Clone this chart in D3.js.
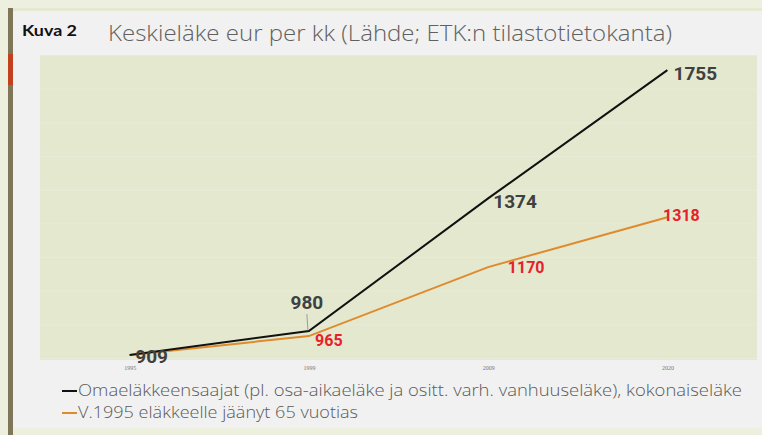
<!DOCTYPE html>
<html lang="fi">
<head>
<meta charset="UTF-8">
<script src="https://d3js.org/d3.v7.min.js"></script>
<title>Keskieläke</title>
<style>
  body { margin: 0; background: #f1f1f0; }
  svg { display: block; }
</style>
</head>
<body>
<svg width="762" height="435"></svg>
<script>
// chart data
var years = ["1995", "1999", "2009", "2020"];
var allPensioners = [909, 980, 1374, 1755];
var retired1995 = [909, 965, 1170, 1318];
var gridValues = [900, 1000, 1100, 1200, 1300, 1400, 1500, 1600, 1700, 1800];
var legendLabels = [
    "Omaeläkkeensaajat (pl. osa-aikaeläke ja ositt. varh. vanhuuseläke), kokonaiseläke",
    "V.1995 eläkkeelle jäänyt 65 vuotias"
];

var svg = d3.select("svg");

// slide background pieces
svg.append("rect").attr("x", 0).attr("y", 0).attr("width", 762).attr("height", 435).attr("fill", "#eef0df");
svg.append("rect").attr("x", 13).attr("y", 10).attr("width", 749).attr("height", 418).attr("fill", "#f1f1f1");
svg.append("rect").attr("x", 8).attr("y", 8).attr("width", 5).attr("height", 427).attr("fill", "#7f7659");
svg.append("rect").attr("x", 8).attr("y", 54).attr("width", 5).attr("height", 31).attr("fill", "#c2401c");
svg.append("rect").attr("x", 13).attr("y", 8).attr("width", 749).attr("height", 3).attr("fill", "#e6e9d2");

var margin = {left: 40, top: 55, right: 757, bottom: 360};

var x = d3.scalePoint().domain(years).range([margin.left, margin.right]).padding(0.5);
var y = d3.scaleLinear().domain([894, 1800]).range([margin.bottom, margin.top]);

// plot area
svg.append("rect")
    .attr("x", margin.left).attr("y", margin.top)
    .attr("width", margin.right - margin.left).attr("height", margin.bottom - margin.top)
    .attr("fill", "#e3e8cf");

var grid = svg.append("g")
    .attr("transform", "translate(" + margin.left + ",0)")
    .call(d3.axisLeft(y).tickValues(gridValues).tickSize(-(margin.right - margin.left)).tickFormat(""));
grid.select(".domain").remove();
grid.selectAll("line").attr("stroke", "#e8ebd8").attr("stroke-width", 1);

// x labels
var xAxis = svg.append("g")
    .attr("transform", "translate(0," + margin.bottom + ")")
    .call(d3.axisBottom(x).tickSize(0).tickPadding(6));
xAxis.select(".domain").remove();
xAxis.selectAll("text")
    .attr("fill", "#777")
    .style("font-family", "Liberation Serif, serif")
    .style("font-size", "6px");

var line = d3.line()
    .x(function(d, i) { return x(years[i]); })
    .y(function(d) { return y(d); });

svg.append("path").datum(retired1995)
    .attr("d", line).attr("fill", "none")
    .attr("stroke", "#e08a2c").attr("stroke-width", 2);
svg.append("path").datum(allPensioners)
    .attr("d", line).attr("fill", "none")
    .attr("stroke", "#111").attr("stroke-width", 2);

// leader for 980
svg.append("line")
    .attr("x1", x("1999") - 2).attr("y1", y(980) - 17)
    .attr("x2", x("1999") - 1).attr("y2", y(980) - 1)
    .attr("stroke", "#8a8a8a").attr("stroke-width", 0.8);

// value labels
var blackOffsets = [[22, 2], [-2, -29], [27, 3], [28, 3]];
var redOffsets = [[20, 4], [20, 4], [38, 0], [14, -2]];

svg.selectAll(".lblBlack").data(allPensioners).enter().append("text")
    .attr("class", "lblBlack")
    .attr("x", function(d, i) { return x(years[i]) + blackOffsets[i][0]; })
    .attr("y", function(d, i) { return y(d) + blackOffsets[i][1]; })
    .attr("text-anchor", "middle").attr("dominant-baseline", "central")
    .style("font-family", "Roboto, sans-serif").style("font-weight", "bold")
    .style("font-size", "19px").attr("fill", "#404040")
    .text(function(d) { return d; });

svg.selectAll(".lblRed").data(retired1995.slice(1)).enter().append("text")
    .attr("class", "lblRed")
    .attr("x", function(d, i) { return x(years[i + 1]) + redOffsets[i + 1][0]; })
    .attr("y", function(d, i) { return y(d) + redOffsets[i + 1][1]; })
    .attr("text-anchor", "middle").attr("dominant-baseline", "central")
    .style("font-family", "Roboto, sans-serif").style("font-weight", "bold")
    .style("font-size", "16px").attr("fill", "#e8202a")
    .text(function(d) { return d; });

// titles
svg.append("text").attr("x", 22).attr("y", 36)
    .attr("textLength", 55).attr("lengthAdjust", "spacingAndGlyphs")
    .style("font-family", "Lato, sans-serif").style("font-weight", "bold")
    .style("font-size", "16px").attr("fill", "#111").text("Kuva 2");
svg.append("text").attr("x", 108).attr("y", 41)
    .attr("textLength", 564).attr("lengthAdjust", "spacingAndGlyphs")
    .style("font-family", "Open Sans, sans-serif").style("font-weight", "300")
    .style("font-size", "22px").attr("fill", "#606060")
    .text("Keskieläke eur per kk (Lähde; ETK:n tilastotietokanta)");

// legend
var legendColors = ["#111", "#e08a2c"];
var legendWidths = [664, 280];
legendLabels.forEach(function(lbl, i) {
    svg.append("line")
        .attr("x1", 62).attr("x2", 77)
        .attr("y1", 391 + i * 22).attr("y2", 391 + i * 22)
        .attr("stroke", legendColors[i]).attr("stroke-width", 2);
    svg.append("text").attr("x", 78).attr("y", 396 + i * 22)
        .attr("textLength", legendWidths[i]).attr("lengthAdjust", "spacingAndGlyphs")
        .style("font-family", "Open Sans, sans-serif").style("font-weight", "300")
        .style("font-size", "16px").attr("fill", "#5a5a5a")
        .text(lbl);
});
</script>
</body>
</html>
